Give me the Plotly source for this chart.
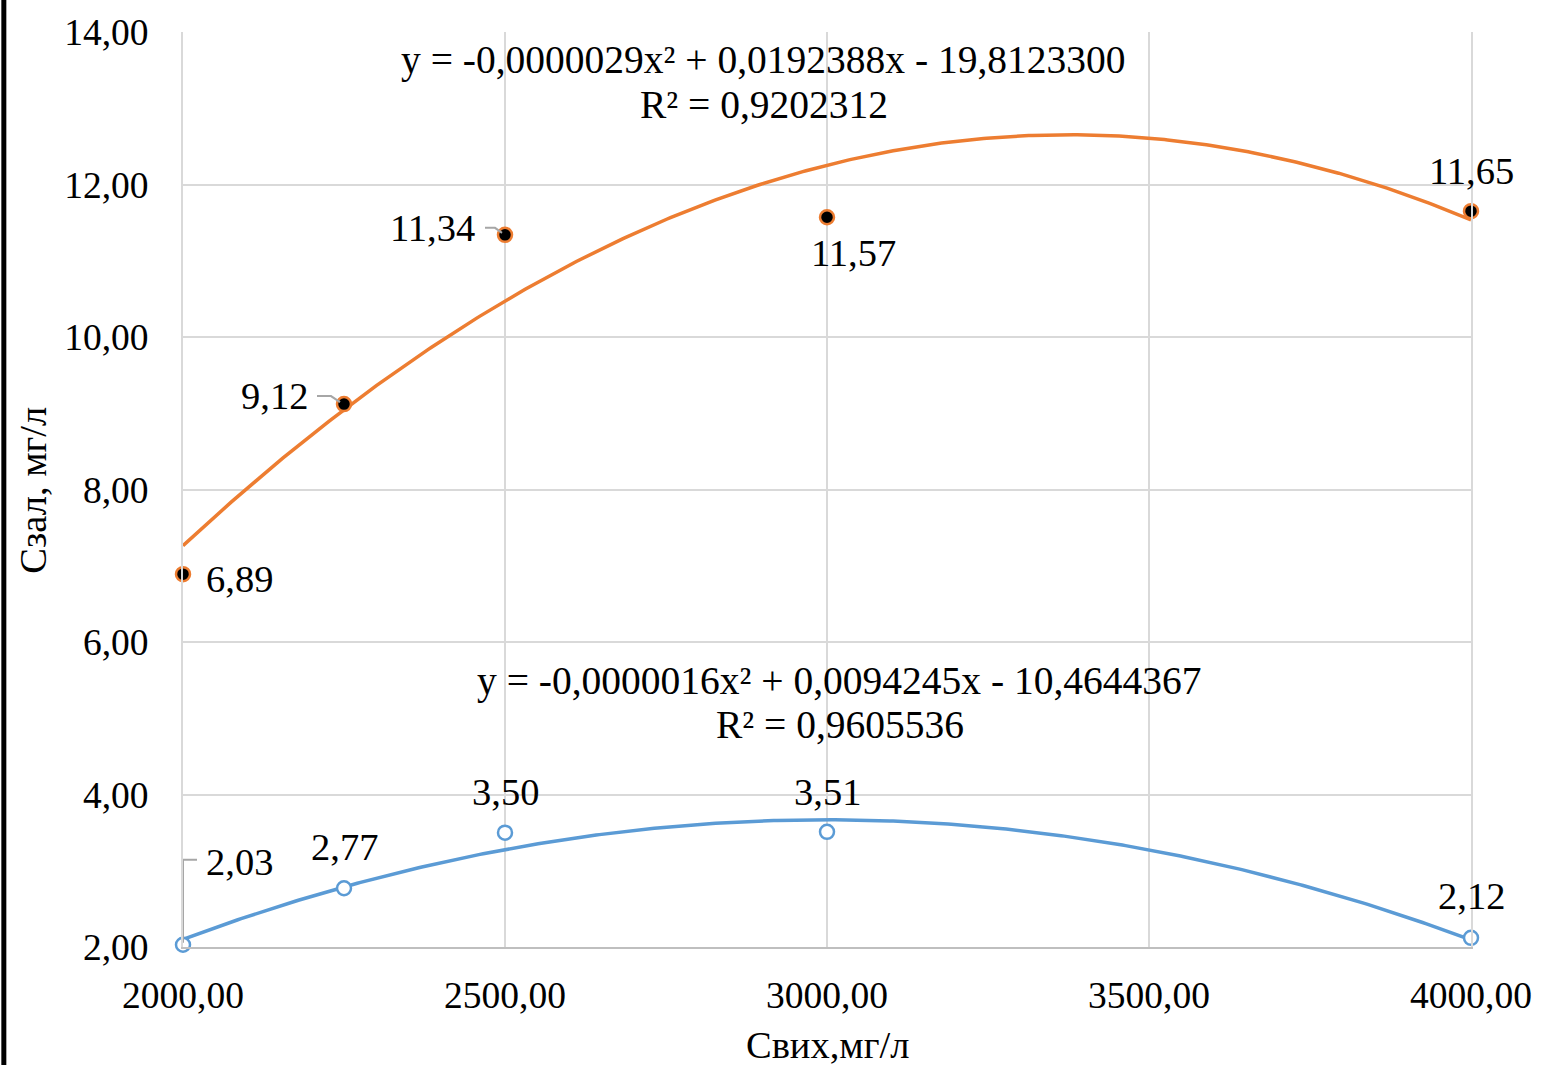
import numpy as np
import plotly.graph_objects as go

# Outlet concentration, mg/l
c_out = [2000, 2250, 2500, 3000, 4000]
# Residual concentration series
c_upper = [6.89, 9.12, 11.34, 11.57, 11.65]
c_lower = [2.03, 2.77, 3.50, 3.51, 2.12]

eq_upper = "y = -0,0000029x² + 0,0192388x - 19,8123300"
r2_upper = "R² = 0,9202312"
eq_lower = "y = -0,0000016x² + 0,0094245x - 10,4644367"
r2_lower = "R² = 0,9605536"

x_ticks = [2000, 2500, 3000, 3500, 4000]
y_ticks = [2, 4, 6, 8, 10, 12, 14]

ORANGE = "#ED7D31"
BLUE = "#5B9BD5"
FONT = "Liberation Serif"
FS_TICK = 37.5
FS_LABEL = 38.5
FS_EQ = 39.5
FS_TITLE = 38.5

def fmt(v):
    return f"{v:.2f}".replace(".", ",")

# Second-order polynomial trend lines
xs = np.linspace(min(c_out), max(c_out), 400)
fit_u = np.polyval(np.polyfit(c_out, c_upper, 2), xs)
fit_l = np.polyval(np.polyfit(c_out, c_lower, 2), xs)

fig = go.Figure()
fig.add_trace(go.Scatter(x=xs, y=fit_u, mode="lines",
                         line=dict(color=ORANGE, width=3.5), hoverinfo="skip"))
fig.add_trace(go.Scatter(x=xs, y=fit_l, mode="lines",
                         line=dict(color=BLUE, width=3.5), hoverinfo="skip"))
fig.add_trace(go.Scatter(x=c_out, y=c_upper, mode="markers",
                         marker=dict(size=14, color="black",
                                     line=dict(color=ORANGE, width=2.5))))
fig.add_trace(go.Scatter(x=c_out, y=c_lower, mode="markers",
                         marker=dict(size=14, color="white",
                                     line=dict(color=BLUE, width=2.5))))

# Data labels: pixel offsets from each point
upper_off = [(56, -5), (-70, 8), (-73, 7), (26, -36), (0, 40)]
lower_off = [(56, 83), (0, 41), (0, 41), (0, 40), (0, 42)]
ann = []
for xv, yv, (dx, dy) in zip(c_out, c_upper, upper_off):
    ann.append(dict(x=xv, y=yv, xref="x", yref="y", text=fmt(yv), showarrow=False,
                    xshift=dx, yshift=dy,
                    font=dict(family=FONT, size=FS_LABEL, color="black")))
for xv, yv, (dx, dy) in zip(c_out, c_lower, lower_off):
    ann.append(dict(x=xv, y=yv, xref="x", yref="y", text=fmt(yv), showarrow=False,
                    xshift=dx, yshift=dy,
                    font=dict(family=FONT, size=FS_LABEL, color="black")))

# Trend-line equations
for txt, xv, yv in [(eq_upper, 2902, 13.63), (r2_upper, 2902, 13.04),
                    (eq_lower, 3020, 5.49), (r2_lower, 3020, 4.91)]:
    ann.append(dict(x=xv, y=yv, xref="x", yref="y", text=txt, showarrow=False,
                    xanchor="center", yanchor="middle",
                    font=dict(family=FONT, size=FS_EQ, color="black")))

# Axis titles
ann.append(dict(x=0.5, y=-0.107, xref="paper", yref="paper", text="Свих,мг/л",
                xanchor="center", yanchor="middle", showarrow=False,
                font=dict(family=FONT, size=FS_TITLE, color="black")))
ann.append(dict(x=-0.1167, y=0.4995, xref="paper", yref="paper", text="Сзал, мг/л",
                xanchor="center", yanchor="middle", textangle=-90, showarrow=False,
                font=dict(family=FONT, size=FS_TITLE, color="black")))

# Leader lines for labels placed away from their points
LEAD = "#a6a6a6"
shapes = []
for xv, yv, path in [(c_out[1], c_upper[1], "M-27,8 L-13,8 L-4,2"),
                     (c_out[2], c_upper[2], "M-20,7 L-10,7 L-3,2"),
                     (c_out[0], c_lower[0], "M0,2 L0,85 L14,85")]:
    shapes.append(dict(type="path", xref="x", yref="y", xsizemode="pixel",
                       ysizemode="pixel", xanchor=xv, yanchor=yv, path=path,
                       line=dict(color=LEAD, width=2)))

# Frame edge on the left of the page
shapes.append(dict(type="line", xref="paper", yref="paper", x0=-0.1391, x1=-0.1391,
                   y0=-0.14, y1=1.05, line=dict(color="black", width=5)))

fig.update_layout(
    width=1544, height=1065,
    margin=dict(l=183, r=62, t=32, b=118),
    paper_bgcolor="white", plot_bgcolor="white",
    showlegend=False,
    separators=", ",
    annotations=ann,
    shapes=shapes,
    font=dict(family=FONT, size=FS_TICK, color="black"),
    xaxis=dict(range=[2000, 4000], tickvals=x_ticks, tickformat=".2f",
               showgrid=True, gridcolor="#d9d9d9", gridwidth=2,
               showline=True, linecolor="#bfbfbf", linewidth=2,
               zeroline=False, ticks="", ticklabelstandoff=14,
               tickfont=dict(family=FONT, size=FS_TICK, color="black")),
    yaxis=dict(range=[2, 14], tickvals=y_ticks, tickformat=".2f",
               showgrid=True, gridcolor="#d9d9d9", gridwidth=2,
               showline=True, linecolor="#d9d9d9", linewidth=2, mirror=True,
               zeroline=False, ticks="", ticklabelstandoff=25,
               tickfont=dict(family=FONT, size=FS_TICK, color="black")),
)
fig.update_traces(cliponaxis=False)

fig.write_html("out.html")
